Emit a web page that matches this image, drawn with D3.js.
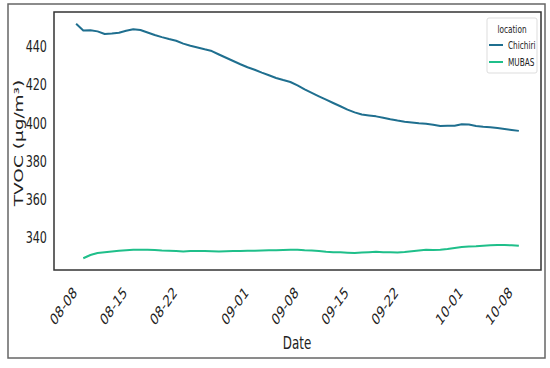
<!DOCTYPE html>
<html>
<head>
<meta charset="utf-8">
<script src="https://cdn.jsdelivr.net/npm/d3@7/dist/d3.min.js"></script>
<style>
  body { margin: 0; background: #fff; }
  text { font-family: "DejaVu Sans", sans-serif; fill: #222; }
</style>
</head>
<body>
<svg id="chart" width="550" height="368"></svg>
<script>
// daily TVOC
const chichiriStart = '2023-08-10';
const chichiri = [
  452.0, 448.5, 448.6, 448.0, 446.6, 446.9, 447.3, 448.3, 449.1, 448.7,
  447.4, 446.1, 445.0, 444.0, 443.1, 441.6, 440.5, 439.6, 438.6, 437.7,
  435.9, 434.2, 432.5, 430.8, 429.2, 427.9, 426.4, 425.0, 423.6, 422.5,
  421.5, 419.7, 417.6, 415.8, 414.0, 412.3, 410.5, 408.8, 407.0, 405.6,
  404.5, 404.0, 403.5, 402.8, 402.0, 401.3, 400.7, 400.3, 399.9, 399.6,
  399.1, 398.4, 398.6, 398.6, 399.4, 399.2, 398.5, 398.1, 397.8, 397.4,
  396.9, 396.4, 395.9
];
const mubasStart = '2023-08-11';
const mubas = [
  329.2, 330.9, 332.0, 332.4, 332.8, 333.1, 333.4, 333.7, 333.7, 333.6,
  333.5, 333.3, 333.2, 333.0, 332.8, 333.0, 333.0, 333.0, 332.9, 332.8,
  332.9, 333.0, 333.0, 333.1, 333.2, 333.3, 333.4, 333.4, 333.5, 333.6,
  333.6, 333.4, 333.3, 333.0, 332.6, 332.4, 332.3, 332.1, 331.9, 332.2,
  332.4, 332.6, 332.4, 332.3, 332.2, 332.5, 332.9, 333.3, 333.6, 333.5,
  333.6, 334.0, 334.6, 335.1, 335.3, 335.5, 335.8, 336.0, 336.1, 336.1,
  336.0, 335.7
];
const locations = ['Chichiri', 'MUBAS'];
const colors = ['#1f6f8f', '#1fbf8a'];
const yTicks = [340, 360, 380, 400, 420, 440];
const xTicks = ['2023-08-08', '2023-08-15', '2023-08-22', '2023-09-01', '2023-09-08',
                '2023-09-15', '2023-09-22', '2023-10-01', '2023-10-08'];

const parse = d3.timeParse('%Y-%m-%d');
const fmt = d3.timeFormat('%m-%d');
const SQ = 0.7; // text looks squeezed sideways in the reference

function toSeries(start, vals) {
  const s = parse(start);
  return vals.map((v, i) => ({ date: d3.timeDay.offset(s, i), value: v }));
}
const series = [toSeries(chichiriStart, chichiri), toSeries(mubasStart, mubas)];

const plot = { left: 54, right: 541, top: 12, bottom: 270 };
const svg = d3.select('#chart');

// matplotlib-like 5% margins
const allDates = series.flat().map(d => d.date);
const allVals = series.flat().map(d => d.value);
const [d0, d1] = d3.extent(allDates);
const pad = (d1 - d0) * 0.05;
const [v0, v1] = d3.extent(allVals);
const vpad = (v1 - v0) * 0.05;

const x = d3.scaleTime()
  .domain([new Date(+d0 - pad), new Date(+d1 + pad)])
  .range([plot.left, plot.right]);
const y = d3.scaleLinear()
  .domain([v0 - vpad, v1 + vpad])
  .range([plot.bottom, plot.top]);

// outer frame
svg.append('rect')
  .attr('x', 8).attr('y', 4).attr('width', 537).attr('height', 354)
  .attr('fill', 'none').attr('stroke', '#666').attr('stroke-width', 1.5);

// lines
const line = d3.line().x(d => x(d.date)).y(d => y(d.value));
series.forEach((s, i) => {
  svg.append('path')
    .datum(s)
    .attr('d', line)
    .attr('fill', 'none')
    .attr('stroke', colors[i])
    .attr('stroke-width', 2)
    .attr('stroke-linejoin', 'round');
});

// plot frame
svg.append('rect')
  .attr('x', plot.left).attr('y', plot.top)
  .attr('width', plot.right - plot.left).attr('height', plot.bottom - plot.top)
  .attr('fill', 'none').attr('stroke', '#333').attr('stroke-width', 1.5);

// y tick labels
yTicks.forEach(t => {
  svg.append('g')
    .attr('transform', `translate(${plot.left - 7},${y(t)}) scale(${SQ},1)`)
    .append('text')
    .attr('text-anchor', 'end')
    .attr('dy', '0.35em')
    .style('font-size', '16px')
    .text(t);
});

// x tick labels, rotated
xTicks.forEach(t => {
  const px = x(parse(t));
  svg.append('g')
    .attr('transform', `translate(${px + 12},${288}) scale(${SQ},1) rotate(-45)`)
    .append('text')
    .attr('text-anchor', 'end')
    .attr('dy', '0.5em')
    .style('font-size', '16px')
    .text(fmt(parse(t)));
});

// axis titles
svg.append('g')
  .attr('transform', `translate(297,343) scale(${SQ},1)`)
  .append('text')
  .attr('text-anchor', 'middle')
  .attr('dy', '0.35em')
  .style('font-size', '17px')
  .text('Date');

svg.append('g')
  .attr('transform', `translate(18,143) scale(${SQ},1) rotate(-90)`)
  .append('text')
  .attr('text-anchor', 'middle')
  .attr('dy', '0.35em')
  .style('font-size', '18.5px')
  .text('TVOC (μg/m³)');

// legend
const lg = svg.append('g').attr('transform', 'translate(487,18)');
lg.append('rect')
  .attr('width', 50).attr('height', 55).attr('rx', 2)
  .attr('fill', '#fff').attr('stroke', '#ddd');
lg.append('g')
  .attr('transform', `translate(25,11) scale(${SQ},1)`)
  .append('text')
  .attr('text-anchor', 'middle').attr('dy', '0.35em')
  .style('font-size', '10.5px')
  .text('location');
locations.forEach((name, i) => {
  const ly = 27 + i * 17;
  lg.append('line')
    .attr('x1', 2).attr('x2', 16).attr('y1', ly).attr('y2', ly)
    .attr('stroke', colors[i]).attr('stroke-width', 2);
  lg.append('g')
    .attr('transform', `translate(21,${ly}) scale(${SQ},1)`)
    .append('text')
    .attr('dy', '0.35em')
    .style('font-size', '10.5px')
    .text(name);
});
</script>
</body>
</html>
